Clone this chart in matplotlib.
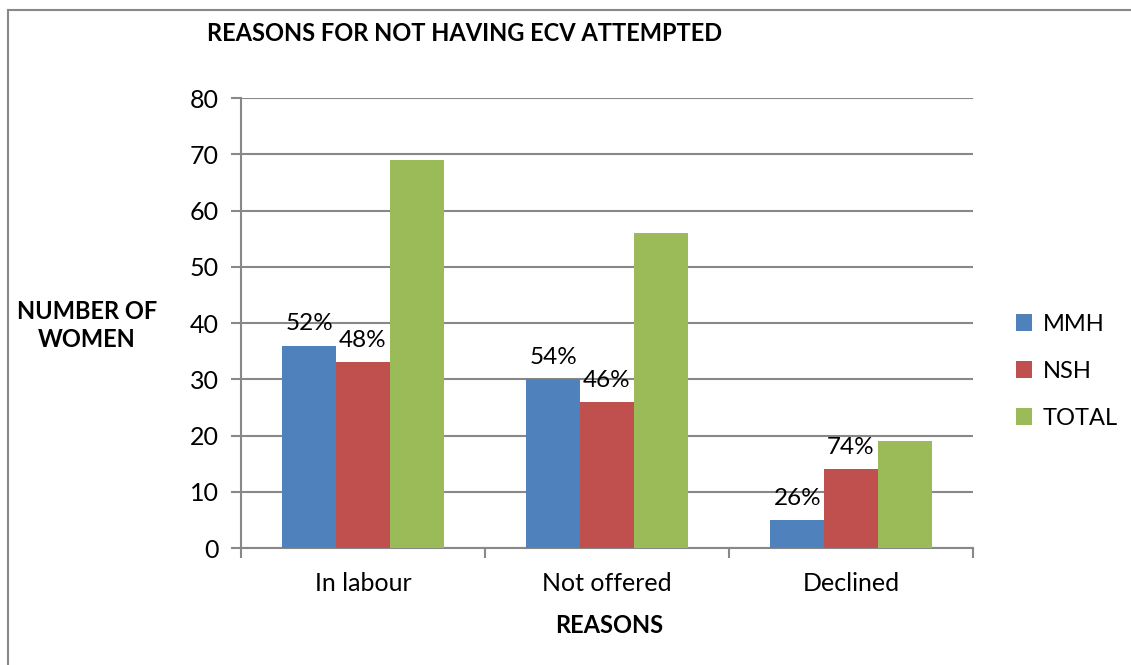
import numpy as np
import matplotlib
matplotlib.use('Agg')
import matplotlib.pyplot as plt
from matplotlib.lines import Line2D

plt.rcParams['font.family'] = ['Lato', 'DejaVu Sans']

reasons  = ["In labour", "Not offered", "Declined"]
mmh      = [36, 30, 5]
nsh      = [33, 26, 14]
total    = [69, 56, 19]
pct_mmh  = ["52%", "54%", "26%"]
pct_nsh  = ["48%", "46%", "74%"]
y_ticks  = [0, 10, 20, 30, 40, 50, 60, 70, 80]

BLUE  = '#4F81BD'
RED   = '#C0504D'
GREEN = '#9BBB59'
GRID  = '#888888'

fig = plt.figure(figsize=(11.31, 6.65), dpi=100)
ax = fig.add_axes([0.2131, 0.1759, 0.6472, 0.6767])

x = np.arange(len(reasons))
w = 0.22
b1 = ax.bar(x - w, mmh,   w, color=BLUE,  label='MMH',   zorder=3)
b2 = ax.bar(x,     nsh,   w, color=RED,   label='NSH',   zorder=3)
b3 = ax.bar(x + w, total, w, color=GREEN, label='TOTAL', zorder=3)

ax.bar_label(b1, labels=pct_mmh, padding=8, fontsize=17.5)
ax.bar_label(b2, labels=pct_nsh, padding=8, fontsize=17.5)

ax.set_xlim(-0.5, len(reasons) - 0.5)
ax.set_ylim(0, 80)
ax.set_yticks(y_ticks)
ax.yaxis.grid(True, color=GRID, linewidth=1.5, zorder=0)
ax.set_axisbelow(True)

ax.set_xticks(x)
ax.set_xticklabels(reasons, fontsize=18)
ax.set_xticks(np.arange(len(reasons) + 1) - 0.5, minor=True)
ax.tick_params(axis='x', which='major', length=0, pad=17)
ax.tick_params(axis='x', which='minor', length=7, color=GRID, width=1.5)
ax.tick_params(axis='y', length=7, color=GRID, width=1.5, labelsize=18, pad=9)

for side in ['top', 'right']:
    ax.spines[side].set_visible(False)
for side in ['left', 'bottom']:
    ax.spines[side].set_color(GRID)
    ax.spines[side].set_linewidth(1.5)

fig.text(0.183, 0.950, 'REASONS FOR NOT HAVING ECV ATTEMPTED',
         fontsize=17, fontweight='bold', va='center', ha='left')
fig.text(0.077, 0.511, 'NUMBER OF\nWOMEN', fontsize=17, fontweight='bold',
         va='center', ha='center', multialignment='center', linespacing=1.25)
fig.text(0.539, 0.060, 'REASONS', fontsize=17, fontweight='bold',
         va='center', ha='center')

fig.legend(handles=[b1, b2, b3], loc='center left',
           bbox_to_anchor=(0.898, 0.442), frameon=False, fontsize=17,
           handlelength=0.7, handleheight=0.7, handletextpad=0.45,
           labelspacing=1.1, borderpad=0, borderaxespad=0)

# chart border (left and top edges visible in the crop)
fig.add_artist(Line2D([0.0075, 0.0075], [0.0, 0.985], color=GRID, linewidth=1.5,
                      transform=fig.transFigure))
fig.add_artist(Line2D([0.0075, 1.0], [0.985, 0.985], color=GRID, linewidth=1.5,
                      transform=fig.transFigure))

plt.savefig('out.png', dpi=100)
plt.close()
